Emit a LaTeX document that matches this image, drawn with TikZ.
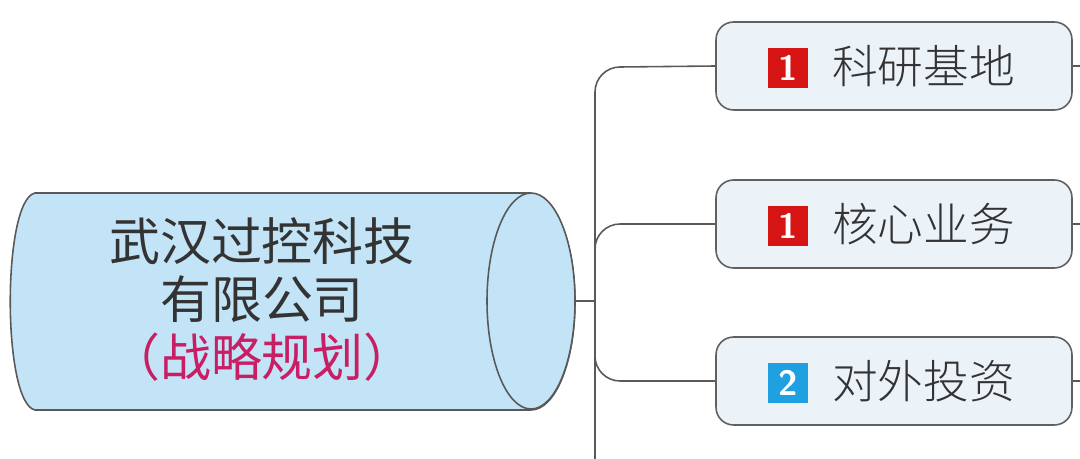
\documentclass[tikz,border=0pt]{standalone}
\usepackage{fontspec}
\newfontfamily\cjk{Noto Sans CJK SC}
\begin{document}
\begin{tikzpicture}[x=0.02cm,y=-0.02cm,
  line/.style={draw=gray!70!black,line width=0.9pt},
  box/.style={draw=gray!75!black,fill=boxf,rounded corners=10pt,line width=0.9pt,minimum width=7.12cm,minimum height=1.76cm},
  badge/.style={minimum size=0.8cm,inner sep=0pt,text=white,font=\sffamily\bfseries\fontsize{20}{20}\selectfont},
  lbl/.style={font=\cjk\light\fontsize{26}{26}\selectfont,text=black!80,anchor=west}]
\newfontfamily\light{Noto Sans CJK SC Light}
\definecolor{boxf}{RGB}{235,242,248}
\definecolor{cylf}{RGB}{195,228,246}
\definecolor{bred}{RGB}{215,20,20}
\definecolor{bblue}{RGB}{30,160,225}
\definecolor{pink}{RGB}{200,30,100}
\useasboundingbox (0,0) rectangle (1080,459);
% cylinder
\path[fill=cylf,draw=gray!70!black,line width=0.9pt]
  (531,193) -- (35,193) .. controls (2,200) and (2,403) .. (35,410) -- (531,410)
  arc[start angle=-90,end angle=90,x radius=44,y radius=-108];
\draw[fill=cylf,draw=gray!70!black,line width=0.9pt] (531,301) ellipse[x radius=44,y radius=108];
\node[font=\cjk\fontsize{29}{29}\selectfont,text=black!80,align=center] (main) at (262,300)
  {武汉过控科技\\[4pt]有限公司\\[4pt]\textcolor{pink}{（战略规划）}};
\coordinate (stem) at (575,301);
\coordinate (j) at (595,301);
\coordinate (bot) at (595,459);
\node[box] (b1) at (894,66) {};
\node[box] (b2) at (894,224) {};
\node[box] (b3) at (894,381) {};
\node[badge,fill=bred] (n1) at (788,68) {1};
\node[badge,fill=bred] (n2) at (788,226) {1};
\node[badge,fill=bblue] (n3) at (788,383) {2};
\node[lbl] (t1) at (826,66) {科研基地};
\node[lbl] (t2) at (826,224) {核心业务};
\node[lbl] (t3) at (826,381) {对外投资};
\draw[line] (stem) -- (j);
\draw[line] (bot) -- (595,92) arc[start angle=180,end angle=270,radius=25] -- (b1.west);
\draw[line] (595,249) arc[start angle=180,end angle=270,radius=25] -- (b2.west);
\draw[line] (595,356) arc[start angle=180,end angle=90,radius=25] -- (b3.west);
\foreach \b in {b1,b2,b3} \draw[line] (\b.east) -- ++(10,0);
\end{tikzpicture}
\end{document}
